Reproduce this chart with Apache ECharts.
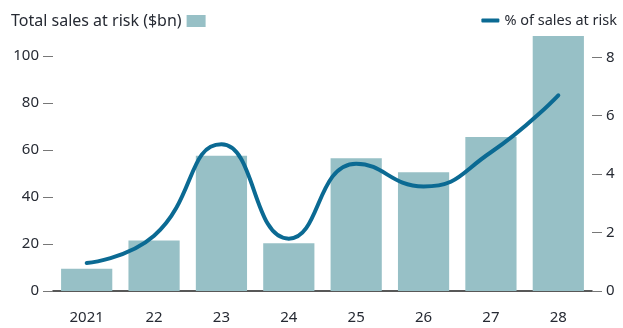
<!DOCTYPE html>
<html>
<head>
<meta charset="utf-8">
<script src="https://cdn.jsdelivr.net/npm/echarts@6/dist/echarts.min.js"></script>
<style>
  html, body { margin: 0; padding: 0; background: #fff; }
  #chart { width: 623px; height: 328px; }
</style>
</head>
<body>
<div id="chart"></div>
<script>
// data
const years = ["2021", "22", "23", "24", "25", "26", "27", "28"];
const salesAtRisk = [9.5, 21.5, 57.5, 20.3, 56.5, 50.5, 65.5, 108.5];
const pctAtRisk = [0.96, 1.89, 5.02, 1.79, 4.36, 3.58, 4.75, 6.7];
const leftTicks = [0, 20, 40, 60, 80, 100];
const rightTicks = [0, 2, 4, 6, 8];

const FONT = "'Noto Sans', Lato, sans-serif";
const TEXT = "#262a33";
const BAR = "#97c0c6";
const LINE = "#0b6a93";

const chart = echarts.init(document.getElementById("chart"));

const option = {
  animation: false,
  textStyle: { fontFamily: FONT, color: TEXT },
  grid: { left: 53, right: 31, top: 36, bottom: 37 },
  legend: [
    {
      data: [{ name: "Total sales at risk ($bn)", icon: "rect" }],
      left: 6,
      top: 8,
      align: "right",
      itemWidth: 19,
      itemHeight: 12,
      itemGap: 6,
      textStyle: { fontFamily: FONT, fontSize: 16, color: TEXT }
    },
    {
      data: [{ name: "% of sales at risk" }],
      right: 1,
      top: 8,
      itemWidth: 18,
      itemHeight: 4,
      itemGap: 5,
      icon: "roundRect",
      textStyle: { fontFamily: FONT, fontSize: 14.5, color: TEXT }
    }
  ],
  xAxis: {
    type: "category",
    data: years,
    axisLine: { lineStyle: { color: "#222", width: 1.5 } },
    axisTick: { alignWithLabel: true, length: 8, lineStyle: { color: "#9a9a9a" } },
    axisLabel: { fontFamily: FONT, fontSize: 15, color: TEXT, margin: 19 }
  },
  yAxis: [
    {
      type: "value",
      min: 0,
      max: 108.5,
      splitLine: { show: false },
      axisLine: { show: false },
      axisTick: { show: true, length: 10, customValues: leftTicks, lineStyle: { color: "#777" } },
      axisLabel: { customValues: leftTicks, fontFamily: FONT, fontSize: 15, color: TEXT, margin: 14 }
    },
    {
      type: "value",
      min: 0,
      max: 8.73,
      position: "right",
      splitLine: { show: false },
      axisLine: { show: false },
      axisTick: { show: true, length: 10, customValues: rightTicks, lineStyle: { color: "#777" } },
      axisLabel: { customValues: rightTicks, fontFamily: FONT, fontSize: 15, color: TEXT, margin: 14 }
    }
  ],
  series: [
    {
      name: "Total sales at risk ($bn)",
      type: "bar",
      data: salesAtRisk,
      yAxisIndex: 0,
      barCategoryGap: "24%",
      itemStyle: { color: BAR }
    },
    {
      name: "% of sales at risk",
      type: "line",
      data: pctAtRisk,
      yAxisIndex: 1,
      smooth: 0.5,
      showSymbol: false,
      lineStyle: { color: LINE, width: 4, cap: "round" },
      itemStyle: { color: LINE }
    }
  ]
};

chart.setOption(option);
window.addEventListener("resize", () => {
  chart.resize();
});
</script>
</body>
</html>
